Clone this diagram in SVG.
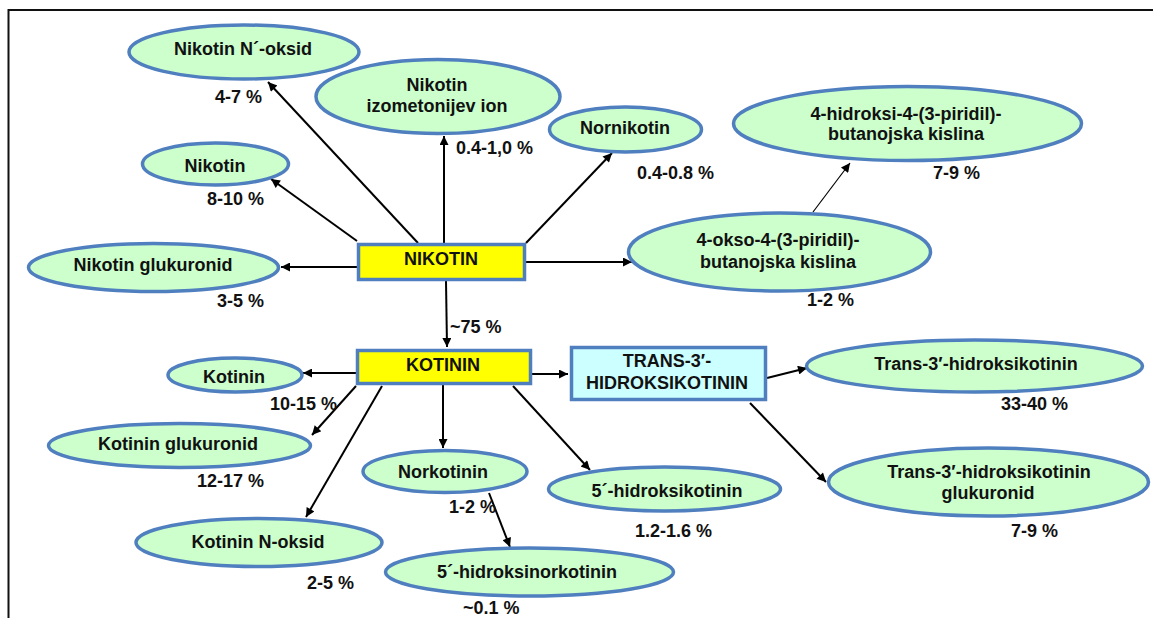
<svg xmlns="http://www.w3.org/2000/svg" width="1153" height="618" viewBox="0 0 1153 618">
<style>
.el{fill:#ccffcc;stroke:#4f7fbf;stroke-width:3.5}
.box{stroke:#4f7fbf;stroke-width:3.5}
.y{fill:#ffff00}
.c{fill:#ccffff}
text{font-family:"Liberation Sans",Arial,sans-serif;font-size:18px;font-weight:bold;fill:#111}
.m{text-anchor:middle}
.b{font-weight:normal}
.ln{stroke:#000;stroke-width:2;fill:none;marker-end:url(#ah)}
.thin{stroke:#000;stroke-width:1.2;fill:none;marker-end:url(#ah2)}
</style>
<defs>
<marker id="ah" viewBox="0 0 10 10" refX="10" refY="5" markerWidth="11" markerHeight="9" markerUnits="userSpaceOnUse" orient="auto"><path d="M0,0L10,5L0,10z" fill="#000"/></marker>
<marker id="ah2" viewBox="0 0 10 10" refX="10" refY="5" markerWidth="11" markerHeight="9" markerUnits="userSpaceOnUse" orient="auto"><path d="M0,0L10,5L0,10z" fill="#000"/></marker>
</defs>
<rect width="1153" height="618" fill="#fff"/>
<g id="frame"><path d="M8.5,618V10H1153" fill="none" stroke="#111" stroke-width="2"/></g>
<g id="connectors">
<line class="ln" x1="418" y1="243" x2="268" y2="82"/>
<line class="ln" x1="444" y1="243" x2="444" y2="136"/>
<line class="ln" x1="526" y1="243" x2="612" y2="153"/>
<line class="ln" x1="357" y1="241" x2="271" y2="179"/>
<line class="ln" x1="357" y1="267" x2="281" y2="267"/>
<line class="ln" x1="526" y1="262" x2="632" y2="262"/>
<line class="thin" x1="813" y1="212" x2="850" y2="163"/>
<line class="ln" x1="446" y1="281" x2="447" y2="347"/>
<line class="ln" x1="356" y1="373" x2="303" y2="373"/>
<line class="ln" x1="356" y1="386" x2="312" y2="435"/>
<line class="ln" x1="382" y1="386" x2="306" y2="517"/>
<line class="ln" x1="443" y1="385" x2="443" y2="448"/>
<line class="ln" x1="513" y1="386" x2="590" y2="470"/>
<line class="ln" x1="489" y1="493" x2="510" y2="547"/>
<line class="ln" x1="532" y1="374" x2="568" y2="374"/>
<line class="ln" x1="767" y1="378" x2="807" y2="368"/>
<line class="ln" x1="750" y1="403" x2="826" y2="482"/>
</g>
<g id="nikotin"><rect class="box y" x="358.5" y="244.5" width="166" height="35"/><text class="m" x="441" y="265">NIKOTIN</text></g>
<g id="kotinin"><rect class="box y" x="357.5" y="350.5" width="173" height="33"/><text class="m" x="443" y="371">KOTININ</text></g>
<g id="trans"><rect class="box c" x="571.5" y="347.5" width="194" height="52"/><text class="m" x="667" y="367">TRANS-3′-</text><text class="m" x="667" y="389">HIDROKSIKOTININ</text></g>
<g id="n-oksid"><ellipse class="el" cx="244" cy="52" rx="115" ry="27"/><text class="m" x="243" y="55">Nikotin N´-oksid</text><text x="215" y="103">4-7 %</text></g>
<g id="izometonijev"><ellipse class="el" cx="438" cy="96.5" rx="122" ry="37"/><text class="m" x="437" y="91">Nikotin</text><text class="m" x="437" y="112">izometonijev ion</text><text x="456" y="154">0.4-1,0 %</text></g>
<g id="nornikotin"><ellipse class="el" cx="625.5" cy="129.5" rx="76" ry="22.5"/><text class="m" x="625" y="134">Nornikotin</text><text x="637" y="179">0.4-0.8 %</text></g>
<g id="hidroksi-kislina"><ellipse class="el" cx="907.5" cy="123.5" rx="174" ry="37"/><text class="m" x="906" y="120">4-hidroksi-4-(3-piridil)-</text><text class="m" x="906" y="140">butanojska kislina</text><text x="933" y="179">7-9 %</text></g>
<g id="nikotin-e"><ellipse class="el" cx="215.5" cy="164" rx="73" ry="21"/><text class="m" x="215" y="172">Nikotin</text><text x="207" y="205">8-10 %</text></g>
<g id="nikotin-glukuronid"><ellipse class="el" cx="153.5" cy="267.5" rx="125" ry="24"/><text class="m" x="153" y="271">Nikotin glukuronid</text><text x="217" y="307">3-5 %</text></g>
<g id="okso-kislina"><ellipse class="el" cx="779.5" cy="252" rx="151" ry="39"/><text class="m" x="778" y="246">4-okso-4-(3-piridil)-</text><text class="m" x="778" y="268">butanojska kislina</text><text x="807" y="306">1-2 %</text></g>
<g id="trans-hk"><ellipse class="el" cx="974.5" cy="366" rx="168" ry="26"/><text class="m" x="976" y="370">Trans-3′-hidroksikotinin</text><text x="1001" y="410">33-40 %</text></g>
<g id="trans-hk-gluk"><ellipse class="el" cx="988.5" cy="482" rx="160" ry="34"/><text class="m" x="989" y="478">Trans-3′-hidroksikotinin</text><text class="m" x="988" y="499">glukuronid</text><text x="1011" y="537">7-9 %</text></g>
<g id="kotinin-e"><ellipse class="el" cx="235" cy="375" rx="67" ry="17"/><text class="m" x="234" y="383">Kotinin</text><text x="270" y="410">10-15 %</text></g>
<g id="kotinin-glukuronid"><ellipse class="el" cx="179.5" cy="445.5" rx="131" ry="22"/><text class="m" x="178" y="450">Kotinin glukuronid</text><text x="197" y="487">12-17 %</text></g>
<g id="kotinin-n-oksid"><ellipse class="el" cx="259" cy="542.5" rx="123" ry="24"/><text class="m" x="258" y="548">Kotinin N-oksid</text><text x="307" y="589">2-5 %</text></g>
<g id="norkotinin"><ellipse class="el" cx="445" cy="471.5" rx="82" ry="21"/><text class="m" x="443" y="478">Norkotinin</text><text x="449" y="513">1-2 %</text></g>
<g id="hidroksikotinin5"><ellipse class="el" cx="664.5" cy="489" rx="116" ry="22"/><text class="m" x="667" y="497">5´-hidroksikotinin</text><text x="635" y="537">1.2-1.6 %</text></g>
<g id="hidroksinorkotinin5"><ellipse class="el" cx="529.5" cy="572" rx="144" ry="24"/><text class="m" x="527" y="578">5´-hidroksinorkotinin</text><text x="463" y="614">~0.1 %</text></g>
<text x="450" y="333">~75 %</text>
</svg>
